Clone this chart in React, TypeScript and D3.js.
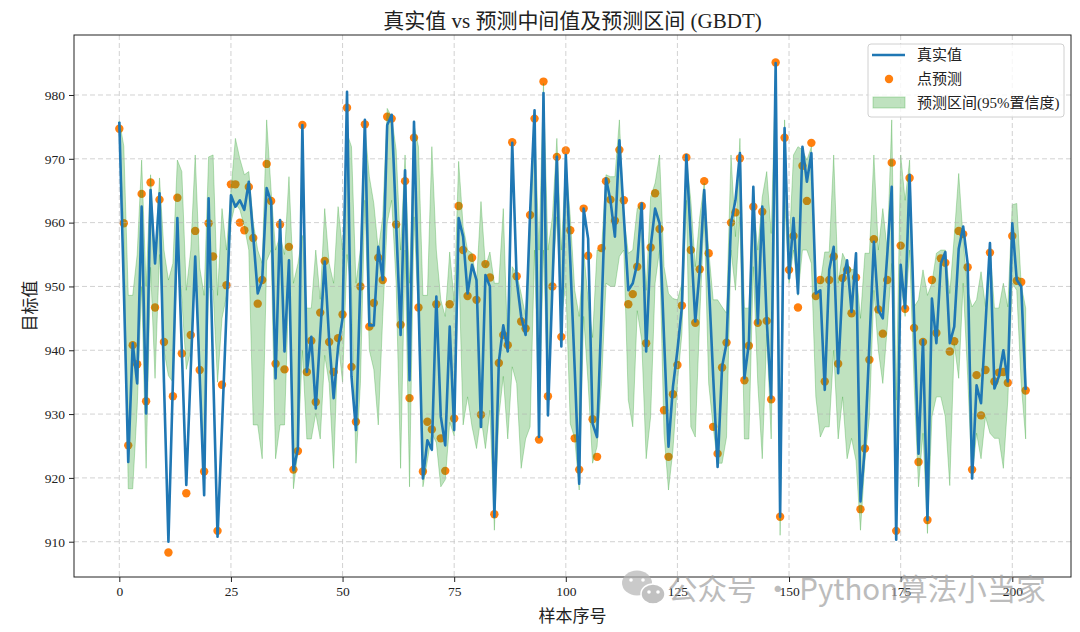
import React, { useEffect, useRef } from "react";
import * as d3 from "d3";

// 真实值
const trueValues = [
  975.8, 950, 922.5, 941.1, 934.8, 962.5, 930.1, 965.1, 953.6, 964.6,
  935, 910, 935, 960.7, 940, 918.9, 937, 954.7, 936, 917.3,
  963.8, 937, 910.8, 928, 946, 964.3, 962.5, 963.5, 962, 966.4,
  957.8, 948.9, 951, 965.4, 963.3, 935.6, 960.4, 939.8, 954.1, 921.2,
  924.6, 975.3, 936.6, 942.1, 930.9, 942.6, 953.9, 941.6, 932.5, 940.5,
  945, 980.5, 935.9, 927.5, 951, 976.1, 943.9, 943.9, 956.2, 951,
  975.3, 976.9, 960, 942.4, 968.2, 935.3, 975.8, 948, 919.9, 925.9,
  924.4, 948.4, 929.6, 925.1, 943.7, 927.5, 960.7, 957.8, 948.9, 953.4,
  951, 928, 951.8, 950, 913.9, 938.2, 943.9, 939.8, 972.5, 951,
  945.3, 942.4, 961.5, 977.6, 926.4, 980.3, 929.8, 950, 970.3, 940.6,
  970.6, 954, 937, 919.1, 962.2, 957.5, 928.5, 926.4, 946, 966.9,
  963.5, 957.8, 972.9, 961, 949.4, 950.5, 953.6, 963, 939.8, 956.2,
  962.2, 959.9, 942, 924.9, 934.3, 940, 946.8, 970.6, 957.5, 944.5,
  952.6, 965.1, 951, 936, 921.7, 937.4, 941.1, 959.9, 963.5, 970.9,
  935.6, 941.1, 965.6, 944.2, 962.5, 944.7, 932.5, 985, 913.9, 974.8,
  951.3, 960.7, 948.9, 971.9, 966.4, 970.9, 948.9, 949.4, 933.8, 952.6,
  956.2, 936.4, 950.5, 954.1, 946, 955.2, 916.3, 925, 941, 957,
  946.3, 945, 955, 965.6, 910.3, 953.4, 946.6, 967.5, 945, 923.8,
  941.6, 913.4, 948.1, 941.1, 953.6, 955.4, 941.1, 943.7, 955.9, 959.4,
  953.6, 919.9, 934.5, 931.7, 944, 956.8, 934, 935.9, 940, 935.1,
  959.9, 951, 950, 933.8,
];

// 点预测
const predValues = [
  974.7, 959.9, 925.1, 940.8, 937.8, 964.5, 932, 966.3, 946.7, 963.6,
  941.3, 908.3, 932.8, 963.9, 939.5, 917.6, 942.4, 958.7, 936.9, 921,
  959.9, 954.7, 911.7, 934.6, 950.2, 966, 966, 960, 958.8, 965.6,
  957.6, 947.3, 951, 969.2, 963.4, 937.9, 959.7, 937, 956.2, 921.3,
  924.2, 975.3, 936.6, 941.5, 931.9, 945.9, 954, 941.3, 936.6, 941.9,
  945.6, 978, 937.4, 928.8, 950, 975.4, 943.7, 947.4, 954.5, 951,
  976.6, 976.3, 959.7, 944, 966.5, 932.5, 973.3, 946.7, 921, 928.8,
  927.6, 947.2, 926.2, 921.1, 947.2, 929.3, 962.6, 955.7, 948.5, 954.5,
  947.9, 929.9, 953.5, 951.4, 914.3, 938, 942.4, 940.8, 972.6, 951.6,
  944.5, 943.4, 961.2, 976.3, 926, 982.1, 932.8, 950, 970.3, 942.1,
  971.3, 958.8, 926.2, 921.3, 962.2, 954.8, 929.2, 923.3, 956, 966.5,
  963.6, 960.3, 971.4, 963.5, 947.2, 948.8, 953.1, 962.6, 941.1, 956.1,
  964.6, 959, 930.6, 923.3, 933.1, 937.7, 947, 970.2, 955.7, 944.3,
  952.7, 966.5, 955.2, 928, 923.8, 937.3, 941.2, 960, 961.6, 970.1,
  935.3, 940.7, 962.5, 944.3, 961.7, 944.6, 932.3, 985.1, 913.9, 973.3,
  952.6, 957.9, 946.7, 968.9, 963.4, 972.5, 948.5, 951, 935.1, 951,
  954.7, 937.9, 951.3, 952.6, 945.8, 951.4, 915.1, 924.6, 938.5, 957.4,
  946.4, 942.6, 951, 969.4, 911.7, 956.4, 946.5, 967, 943.5, 922.5,
  941.3, 913.4, 951, 942.7, 954.4, 953.7, 939.8, 941.4, 958.7, 958.2,
  953, 921.3, 936.1, 929.8, 936.9, 955.3, 935.1, 936.5, 936.6, 934.9,
  957.9, 950.9, 950.7, 933.7,
];

// 预测区间下界
const lowerBound = [
  974, 959, 918.3, 918.3, 931, 950, 921.5, 953, 935.6, 955,
  940, 936, 935, 955.7, 948, 937, 940, 953, 935, 920.7,
  950, 949.4, 935, 945, 948.5, 960, 963, 962, 959.4, 955.7,
  928.3, 928.3, 923, 954, 955.7, 923, 928.3, 928.3, 950.5, 918.3,
  924.2, 940, 926.1, 926.1, 930.1, 926.1, 939.2, 934.8, 921.5, 941.6,
  935, 955, 949, 922.3, 934.8, 963.5, 940, 937, 928.3, 945.3,
  960, 963.5, 950.5, 921.5, 955.7, 918.6, 960.9, 945.3, 918.6, 922.7,
  927, 925.5, 918.6, 919.7, 928.7, 926.6, 954.5, 928.3, 932.7, 928,
  924.6, 929.6, 924.6, 930.6, 911.8, 929.6, 935.9, 926.1, 937.4, 934.8,
  921.5, 926.1, 928, 955.7, 927, 955.7, 932.2, 950.5, 960.9, 944.7,
  950.5, 928.5, 926.2, 918.1, 945.3, 934.8, 922.3, 924.9, 934.8, 950.5,
  950, 950, 954.7, 955.7, 932.2, 928, 946.2, 941.6, 923, 929.6,
  950.5, 955.7, 927, 918.1, 924.4, 934.8, 942.6, 963.5, 928, 926.4,
  945.3, 960.9, 934.8, 928, 922.3, 922.3, 926.4, 955.7, 949.4, 960.9,
  926.1, 926.1, 953.1, 934.8, 923, 942.6, 926.1, 970, 911, 963.5,
  950.5, 955.7, 948.6, 955.7, 955.7, 953.6, 932.7, 926.4, 928, 928,
  940, 926.1, 932.7, 923, 926.2, 922.7, 911.8, 922.7, 929.6, 949.4,
  940, 934.8, 943.6, 953.6, 910.5, 950.5, 945.3, 955.7, 934.8, 918.6,
  927, 911.3, 929.6, 932.7, 932.7, 929.6, 918.8, 941, 935.6, 950.5,
  936, 919.9, 927, 923, 929.6, 927, 926.2, 926.2, 921.5, 932.2,
  950.5, 949.4, 934.8, 926.1,
];

// 预测区间上界
const upperBound = [
  976, 972, 948.6, 948.6, 955, 969.8, 950, 967.5, 954, 967,
  955.7, 951, 953.6, 969.8, 968, 949.4, 955.7, 970.6, 953, 948.6,
  970.3, 970.6, 948.6, 962.2, 955.7, 965, 973.2, 970, 967.5, 968,
  960, 955.7, 953.6, 976.1, 965, 955.7, 958, 955, 967.2, 950.5,
  953.6, 958, 946.6, 946.6, 955.7, 948, 962.2, 953.6, 950.5, 962.5,
  955.7, 974, 971.9, 950.5, 955.7, 975, 967.2, 963, 955.7, 960.9,
  977.9, 976.6, 971.4, 955.7, 970.6, 950.5, 975.3, 971.9, 948.6, 948.6,
  971.9, 955.7, 947.9, 945.3, 955.4, 947.6, 969.6, 959.4, 955.7, 955.2,
  950.5, 963.3, 953.1, 955.4, 950.5, 950.5, 962.2, 940, 953.1, 952,
  948.9, 945.3, 958.3, 976.6, 955.7, 981.8, 955.7, 960.9, 973.2, 955.7,
  969.8, 960.9, 949.4, 945.3, 955.7, 947.9, 942, 955.7, 955.7, 967.5,
  967.2, 967.2, 976.1, 960.9, 955.2, 955.7, 962.2, 963, 949.4, 964,
  966.2, 970.6, 953.1, 948.9, 948.1, 947.9, 950.5, 970.3, 963.5, 953.1,
  960.9, 966.2, 955.7, 947.9, 947.9, 946.8, 945.8, 970.6, 957.8, 973.2,
  946.6, 946.6, 963.5, 955.7, 964, 968, 958.3, 983.5, 925, 976.1,
  955.7, 970.6, 971.9, 971.4, 969.8, 971.9, 950.5, 950.5, 955.4, 955.4,
  970.6, 950.5, 955.2, 953.6, 952.6, 952.8, 945, 955.2, 955.2, 970.6,
  955.7, 962.2, 955.7, 976.1, 932.2, 970.6, 963.5, 969.8, 946.8, 947.9,
  952.6, 948.6, 950.5, 955.2, 955.7, 955.7, 948.9, 957.8, 967.7, 957.3,
  949.4, 946.8, 947.9, 952.3, 946.8, 956.2, 946.6, 946.6, 950.5, 946.8,
  962.8, 963, 950.2, 946.6,
];

const xTicks = [0, 25, 50, 75, 100, 125, 150, 175, 200];
const yTicks = [910, 920, 930, 940, 950, 960, 970, 980];
const legendLabels = ["真实值", "点预测", "预测区间(95%置信度)"];

const width = 1080;
const height = 632;
const margin = { top: 35, right: 9, bottom: 55, left: 74 };
const fontFamily = "'Liberation Serif', 'Noto Sans CJK SC', serif";

const App = () => {
  const ref = useRef<SVGSVGElement | null>(null);

  useEffect(() => {
    document.body.style.margin = "0";
    const svg = d3.select(ref.current);
    svg.selectAll("*").remove();

    const idx = d3.range(trueValues.length);
    const n = idx.length - 1;

    const x = d3
      .scaleLinear()
      .domain([-0.05 * n, n * 1.05])
      .range([margin.left, width - margin.right]);
    const y = d3
      .scaleLinear()
      .domain([904.47, 989.4])
      .range([height - margin.bottom, margin.top]);

    svg.append("rect").attr("width", width).attr("height", height).attr("fill", "#fff");

    svg
      .append("clipPath")
      .attr("id", "plot-clip")
      .append("rect")
      .attr("x", margin.left)
      .attr("y", margin.top)
      .attr("width", width - margin.left - margin.right)
      .attr("height", height - margin.top - margin.bottom);

    const plot = svg.append("g").attr("clip-path", "url(#plot-clip)");

    // 点预测
    plot
      .append("g")
      .selectAll("circle")
      .data(idx)
      .join("circle")
      .attr("cx", (i) => x(i))
      .attr("cy", (i) => y(predValues[i]))
      .attr("r", 4.2)
      .attr("fill", "#ff7f0e");

    // 预测区间
    const area = d3
      .area<number>()
      .x((i) => x(i))
      .y0((i) => y(lowerBound[i]))
      .y1((i) => y(upperBound[i]));
    plot
      .append("path")
      .datum(idx)
      .attr("d", area)
      .attr("fill", "#2ca02c")
      .attr("fill-opacity", 0.3)
      .attr("stroke", "#2ca02c")
      .attr("stroke-opacity", 0.3)
      .attr("stroke-width", 1);

    // grid
    const grid = plot
      .append("g")
      .attr("stroke", "#b0b0b0")
      .attr("stroke-dasharray", "5,3")
      .attr("stroke-width", 0.8)
      .attr("opacity", 0.7);
    grid
      .selectAll("line.v")
      .data(xTicks)
      .join("line")
      .attr("class", "v")
      .attr("x1", (d) => x(d))
      .attr("x2", (d) => x(d))
      .attr("y1", margin.top)
      .attr("y2", height - margin.bottom);
    grid
      .selectAll("line.h")
      .data(yTicks)
      .join("line")
      .attr("class", "h")
      .attr("x1", margin.left)
      .attr("x2", width - margin.right)
      .attr("y1", (d) => y(d))
      .attr("y2", (d) => y(d));

    // 真实值
    const line = d3
      .line<number>()
      .x((i) => x(i))
      .y((i) => y(trueValues[i]));
    plot
      .append("path")
      .datum(idx)
      .attr("d", line)
      .attr("fill", "none")
      .attr("stroke", "#1f77b4")
      .attr("stroke-width", 2.6)
      .attr("stroke-linejoin", "round");

    // axes
    const gx = svg
      .append("g")
      .attr("transform", `translate(0,${height - margin.bottom})`)
      .call(d3.axisBottom(x).tickValues(xTicks).tickSize(5).tickPadding(4).tickSizeOuter(0));
    const gy = svg
      .append("g")
      .attr("transform", `translate(${margin.left},0)`)
      .call(d3.axisLeft(y).tickValues(yTicks).tickSize(5).tickPadding(4).tickSizeOuter(0));
    [gx, gy].forEach((g) => {
      g.select(".domain").remove();
      g.selectAll("text").attr("font-family", fontFamily).attr("font-size", 13.5).attr("fill", "#222");
      g.selectAll("line").attr("stroke", "#222");
    });

    svg
      .append("rect")
      .attr("x", margin.left)
      .attr("y", margin.top)
      .attr("width", width - margin.left - margin.right)
      .attr("height", height - margin.top - margin.bottom)
      .attr("fill", "none")
      .attr("stroke", "#222")
      .attr("stroke-width", 1);

    // title & labels
    svg
      .append("text")
      .attr("x", (margin.left + width - margin.right) / 2)
      .attr("y", 28)
      .attr("text-anchor", "middle")
      .attr("font-family", fontFamily)
      .attr("font-size", 21)
      .attr("fill", "#222")
      .text("真实值 vs 预测中间值及预测区间 (GBDT)");
    svg
      .append("text")
      .attr("x", (margin.left + width - margin.right) / 2)
      .attr("y", 622)
      .attr("text-anchor", "middle")
      .attr("font-family", fontFamily)
      .attr("font-size", 17)
      .attr("fill", "#222")
      .text("样本序号");
    svg
      .append("text")
      .attr("transform", `translate(36,${(margin.top + height - margin.bottom) / 2}) rotate(-90)`)
      .attr("text-anchor", "middle")
      .attr("font-family", fontFamily)
      .attr("font-size", 17)
      .attr("fill", "#222")
      .text("目标值");

    // legend
    const lg = svg.append("g").attr("transform", "translate(868,44)");
    lg.append("rect")
      .attr("width", 196)
      .attr("height", 73)
      .attr("rx", 3)
      .attr("fill", "#fff")
      .attr("fill-opacity", 0.8)
      .attr("stroke", "#d0d0d0");
    const rowY = [11, 35, 59];
    lg.append("line")
      .attr("x1", 4)
      .attr("x2", 37)
      .attr("y1", rowY[0])
      .attr("y2", rowY[0])
      .attr("stroke", "#1f77b4")
      .attr("stroke-width", 2.6);
    lg.append("circle").attr("cx", 21).attr("cy", rowY[1]).attr("r", 4.2).attr("fill", "#ff7f0e");
    lg.append("rect")
      .attr("x", 5)
      .attr("y", rowY[2] - 6)
      .attr("width", 32)
      .attr("height", 11)
      .attr("fill", "#2ca02c")
      .attr("fill-opacity", 0.3)
      .attr("stroke", "#2ca02c")
      .attr("stroke-opacity", 0.3);
    lg.selectAll("text.l")
      .data(legendLabels)
      .join("text")
      .attr("class", "l")
      .attr("x", 49)
      .attr("y", (d, i) => rowY[i] + 5)
      .attr("font-family", fontFamily)
      .attr("font-size", 15)
      .attr("fill", "#222")
      .text((d) => d);

    // watermark
    const wm = svg.append("g").attr("opacity", 0.7);
    wm.append("ellipse").attr("cx", 637).attr("cy", 583).attr("rx", 15).attr("ry", 12.5).attr("fill", "#b5b5b5");
    wm.append("ellipse")
      .attr("cx", 653)
      .attr("cy", 594)
      .attr("rx", 12)
      .attr("ry", 10)
      .attr("fill", "#a8a8a8")
      .attr("stroke", "#fff")
      .attr("stroke-width", 1.5);
    [[631, 580], [643, 580], [649, 592], [658, 592]].forEach(([cx, cy]) =>
      wm.append("circle").attr("cx", cx).attr("cy", cy).attr("r", 1.8).attr("fill", "#fff")
    );
    wm.append("text")
      .attr("x", 668)
      .attr("y", 600)
      .attr("font-family", "'Noto Sans CJK SC', 'Noto Sans', sans-serif")
      .attr("font-size", 29.5)
      .attr("fill", "#a0a0a0")
      .text("公众号 · Python算法小当家");
  }, []);

  return <svg ref={ref} width={width} height={height} style={{ display: "block" }} />;
};

export default App;
